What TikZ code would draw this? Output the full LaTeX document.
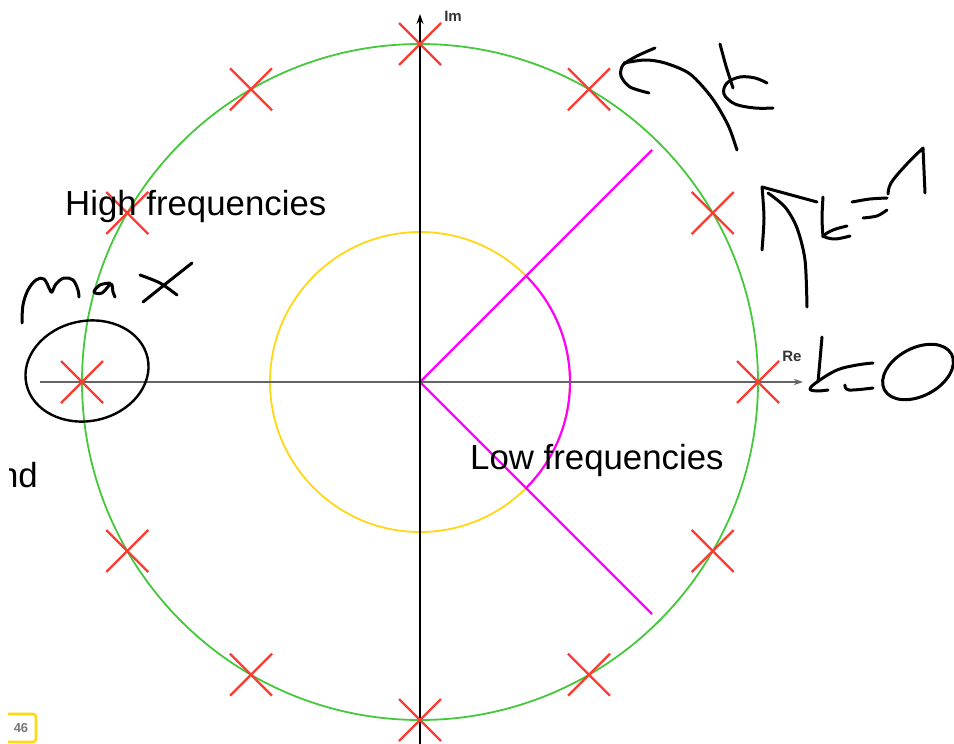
\documentclass[tikz,border=0pt]{standalone}
\usepackage{fontspec}
\setmainfont{Liberation Sans}
\usetikzlibrary{arrows.meta}
\definecolor{ringgreen}{RGB}{70,200,60}
\definecolor{ringyellow}{RGB}{255,215,20}
\definecolor{polered}{RGB}{250,60,50}
\definecolor{axisgray}{RGB}{100,100,100}
\definecolor{pagegray}{RGB}{120,120,120}
\definecolor{lowmag}{RGB}{255,0,255}
\tikzset{
  ring/.style={line width=1.8pt},
  crossmark/.style={draw=polered,line width=2.4pt},
  ink/.style={draw=black,line width=3pt,line cap=round,line join=round},
  bigtext/.style={font=\fontsize{34.8}{40}\selectfont,inner sep=0pt},
  axislabel/.style={font=\fontsize{15}{17}\selectfont\bfseries,inner sep=0pt},
}
\begin{document}
\begin{tikzpicture}[x=1pt,y=-1pt]
\useasboundingbox (0,0) rectangle (954,744);
\fill[white] (0,0) rectangle (954,744);
\coordinate (O) at (420,382);
% rings
\draw[ring,ringgreen] (O) circle[radius=338pt];
\draw[ring,ringyellow] (O) circle[radius=150pt];
\draw[ring,lowmag,line width=2.2pt] (O) ++(-45:150pt) arc[start angle=-45,end angle=45,radius=150pt];
\coordinate (M1) at (652,150);
\coordinate (M2) at (652,614);
\draw[lowmag,line width=2.2pt] (O) -- (M1);
\draw[lowmag,line width=2.2pt] (O) -- (M2);
% axes
\coordinate (XL) at (40,382);
\coordinate (XR) at (803,382);
\coordinate (YB) at (420,744);
\coordinate (YT) at (420,14);
\draw[axisgray,line width=1.6pt,-{Stealth[length=9pt,width=6pt]}] (XL) -- (XR);
\draw[black,line width=1.4pt,-{Stealth[length=10pt,width=7pt]}] (YB) -- (YT);
\node[axislabel,text=black!80] (im) at (453,16) {Im};
\node[axislabel,text=black!80] (re) at (792,356) {Re};
% crosses
\foreach \a in {0,30,...,330}{
  \draw[crossmark] (O) ++(\a:338pt) ++(-21pt,-21pt) -- ++(42pt,42pt);
  \draw[crossmark] (O) ++(\a:338pt) ++(-21pt,21pt) -- ++(42pt,-42pt);
}
% texts
\node[bigtext,anchor=base west] (hf) at (65,215) {High frequencies};
\node[bigtext,anchor=base west] (lf) at (470,469) {Low frequencies};
\begin{scope}
\clip (9,440) rectangle (60,500);
\node[bigtext,anchor=base east] (nd) at (38,487) {nd};
\end{scope}
\draw[ringyellow,line width=2.6pt,rounded corners=3pt] (8,714) -- (36,714) -- (36,742) -- (8,742);
\node[font=\fontsize{13}{15}\selectfont\bfseries,text=pagegray,inner sep=0pt] (pg) at (21,728) {46};
% handwriting: Max
\draw[ink] plot[smooth,tension=0.6] coordinates {(22,323) (23,305) (28,290) (36,280) (44,279) (50,290) (52,292) (56,284) (64,278) (73,280) (78,290) (79,297)};
\draw[ink] plot[smooth,tension=0.6] coordinates {(110,283) (100,285) (94,292) (102,293) (111,284) (113,292) (115,297)};
\draw[ink] plot[smooth] coordinates {(192,263) (168,282) (143,302)};
\draw[ink] plot[smooth] coordinates {(140,275) (160,283) (177,295)};
\draw[ink,line width=2.4pt,rotate around={12:(87,371)}] (87,371) ellipse[x radius=62pt,y radius=50pt];
% handwriting: top arrow and k
\draw[ink] plot[smooth,tension=0.5] coordinates {(655,48) (637,56) (623,65) (621,76) (630,87) (649,93)};
\draw[ink] plot[smooth] coordinates {(624,63) (645,60) (665,63) (690,74) (712,98) (728,125) (737,150)};
\draw[ink] plot[smooth] coordinates {(720,44) (726,66) (733,88)};
\draw[ink] plot[smooth,tension=0.6] coordinates {(767,83) (755,78) (740,77) (727,83) (724,94) (735,104) (755,108) (773,108)};
% handwriting: k=1
\draw[ink] plot[smooth] coordinates {(762,250) (764,218) (762,187)} -- (817,202);
\draw[ink] plot[smooth] coordinates {(768,193) (785,207) (797,228) (805,260) (807,307)};
\draw[ink] plot[smooth] coordinates {(823,197) (822,218) (823,237)};
\draw[ink] plot[smooth,tension=0.6] coordinates {(847,226) (833,230) (824,236) (835,239) (850,236)};
\draw[ink] plot[smooth] coordinates {(852,202) (870,199) (887,198)};
\draw[ink] plot[smooth] coordinates {(863,218) (877,216) (887,210)};
\draw[ink] plot[smooth,tension=0.6] coordinates {(888,194) (891,183) (905,166) (923,148)} -- (925,193);
% handwriting: k=0
\draw[ink] plot[smooth] coordinates {(822,337) (820,360) (818,382)};
\draw[ink] plot[smooth,tension=0.6] coordinates {(873,363) (857,365) (837,370) (817,382) (810,389) (817,391) (828,390)};
\draw[ink] plot[smooth,tension=0.6] coordinates {(845,385) (849,390) (873,388)};
\draw[ink,rotate around={28:(918,372)}] (918,372) ellipse[x radius=38pt,y radius=24pt];
\end{tikzpicture}
\end{document}
